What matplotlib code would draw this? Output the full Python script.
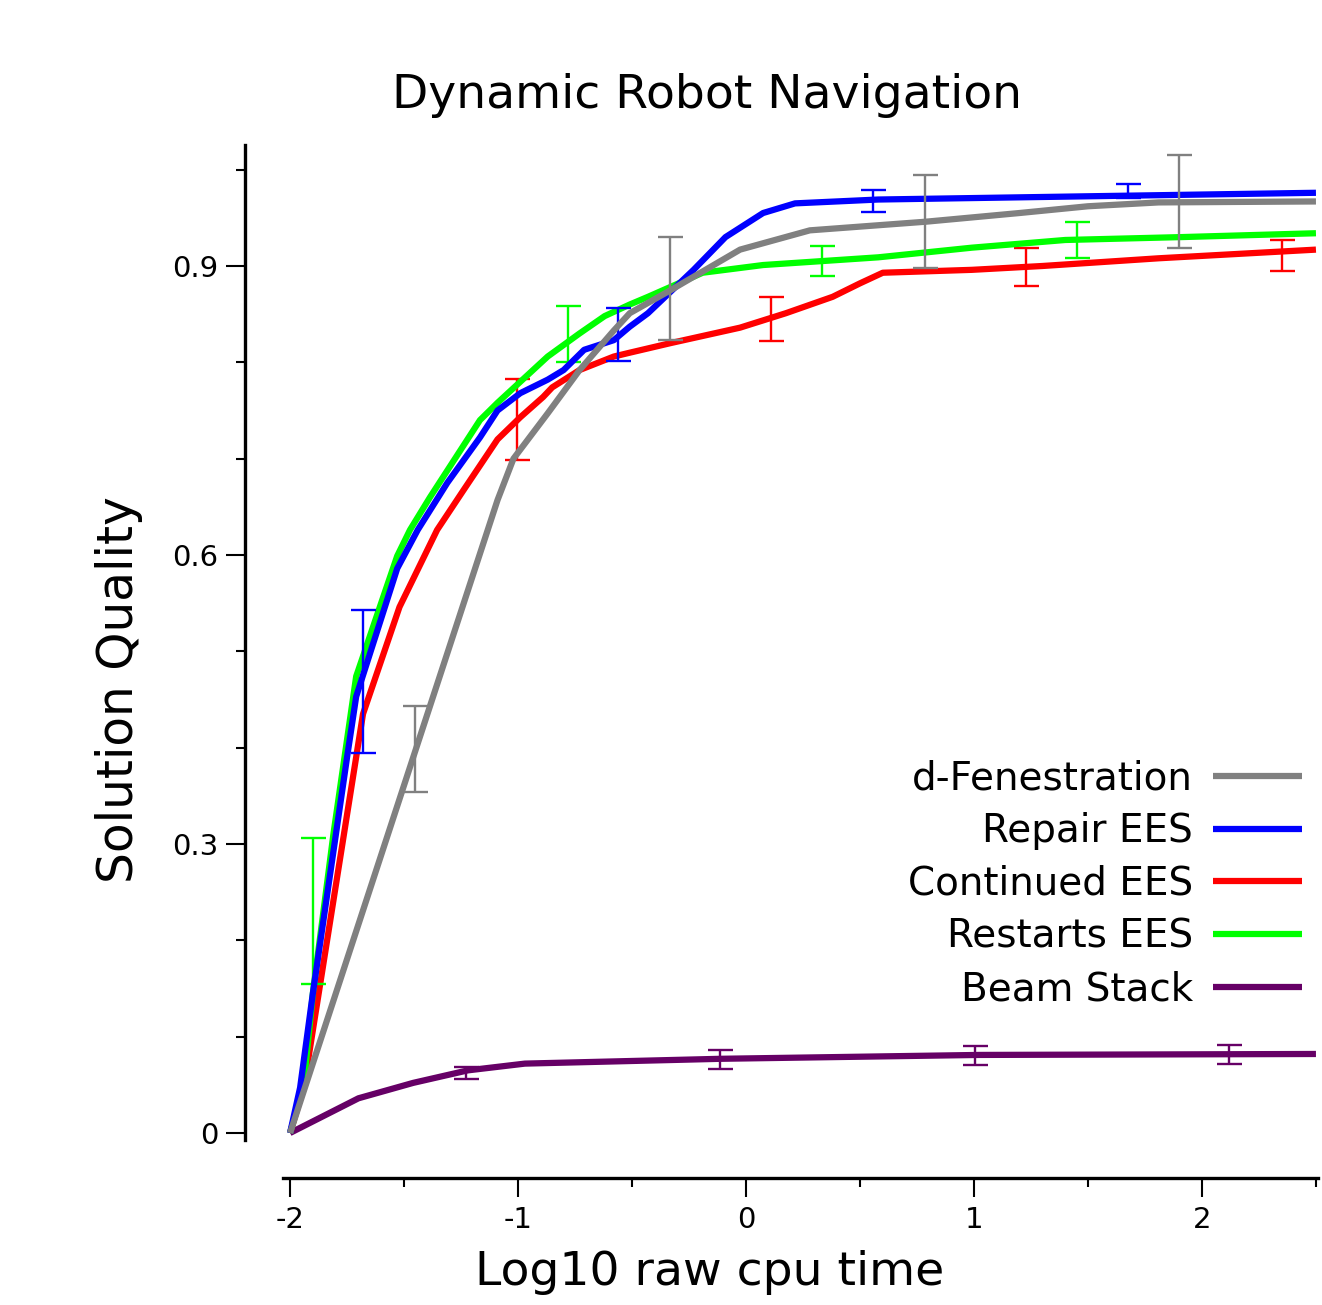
import numpy as np
import matplotlib
matplotlib.use("Agg")
import matplotlib.pyplot as plt
from matplotlib.ticker import MultipleLocator, FixedLocator

# curves: log10 cpu time -> solution quality
dfen_x = [-2, -1.09, -1.02, -0.87, -0.73, -0.58, -0.51, -0.33, -0.026, 0.28, 0.79, 1.20, 1.50, 1.81, 2.5]
dfen_y = [0, 0.657, 0.70, 0.747, 0.792, 0.833, 0.851, 0.875, 0.917, 0.937, 0.946, 0.955, 0.962, 0.966, 0.967]

repair_x = [-2, -1.956, -1.90, -1.75, -1.71, -1.53, -1.44, -1.31, -1.167, -1.09, -0.99, -0.87, -0.80,
            -0.71, -0.58, -0.51, -0.43, -0.23, -0.09, 0.075, 0.215, 0.58, 1.40, 2.5]
repair_y = [0, 0.047, 0.145, 0.39, 0.453, 0.586, 0.626, 0.675, 0.722, 0.75, 0.768, 0.782, 0.792,
            0.813, 0.823, 0.837, 0.851, 0.896, 0.93, 0.955, 0.965, 0.969, 0.972, 0.976]

cont_x = [-2, -1.94, -1.68, -1.52, -1.355, -1.24, -1.09, -0.99, -0.89, -0.85, -0.73, -0.58, -0.51,
          -0.33, -0.026, 0.175, 0.38, 0.50, 0.60, 0.99, 1.30, 1.81, 2.5]
cont_y = [0, 0.047, 0.435, 0.546, 0.626, 0.667, 0.72, 0.743, 0.764, 0.774, 0.792, 0.806, 0.81,
          0.82, 0.836, 0.851, 0.868, 0.882, 0.893, 0.896, 0.900, 0.908, 0.917]

rest_x = [-2, -1.94, -1.90, -1.81, -1.71, -1.53, -1.474, -1.386, -1.167, -1.09, -0.98, -0.87, -0.73,
          -0.62, -0.51, -0.43, -0.19, 0.075, 0.58, 0.99, 1.40, 1.91, 2.5]
rest_y = [0, 0.05, 0.145, 0.31, 0.474, 0.599, 0.626, 0.660, 0.74, 0.758, 0.782, 0.806, 0.830,
          0.848, 0.860, 0.868, 0.893, 0.901, 0.909, 0.919, 0.927, 0.930, 0.934]

beam_x = [-2, -1.70, -1.46, -1.22, -0.97, -0.11, 1.02, 2.5]
beam_y = [0, 0.036, 0.052, 0.065, 0.072, 0.077, 0.081, 0.082]

# error bars: x position, low, high
dfen_ex = [-1.45, -0.333, 0.785, 1.90]
dfen_lo = [0.354, 0.823, 0.898, 0.919]
dfen_hi = [0.443, 0.930, 0.994, 1.015]

repair_ex = [-1.68, -0.56, 0.557, 1.675]
repair_lo = [0.394, 0.801, 0.956, 0.971]
repair_hi = [0.543, 0.856, 0.979, 0.985]

cont_ex = [-1.004, 0.11, 1.23, 2.35]
cont_lo = [0.699, 0.822, 0.879, 0.895]
cont_hi = [0.783, 0.868, 0.919, 0.927]

rest_ex = [-1.90, -0.78, 0.333, 1.45]
rest_lo = [0.155, 0.800, 0.890, 0.908]
rest_hi = [0.306, 0.858, 0.921, 0.946]

beam_ex = [-1.23, -0.114, 1.004, 2.12]
beam_lo = [0.056, 0.066, 0.071, 0.072]
beam_hi = [0.0685, 0.086, 0.090, 0.091]

series = [
    ("Beam Stack", "#660066", beam_x, beam_y, beam_ex, beam_lo, beam_hi),
    ("Continued EES", "#ff0000", cont_x, cont_y, cont_ex, cont_lo, cont_hi),
    ("Restarts EES", "#00ff00", rest_x, rest_y, rest_ex, rest_lo, rest_hi),
    ("Repair EES", "#0000ff", repair_x, repair_y, repair_ex, repair_lo, repair_hi),
    ("d-Fenestration", "#808080", dfen_x, dfen_y, dfen_ex, dfen_lo, dfen_hi),
]
legend_order = ["d-Fenestration", "Repair EES", "Continued EES", "Restarts EES", "Beam Stack"]

fig = plt.figure(figsize=(13.22, 13.05), dpi=100)
ax = fig.add_axes([283 / 1322, 1 - 1140 / 1305, (1318 - 283) / 1322, (1140 - 145) / 1305])

handles = {}
for name, color, x, y, ex, lo, hi in series:
    line, = ax.plot(x, y, color=color, lw=4.5, solid_capstyle="butt", label=name)
    handles[name] = line
    lo = np.array(lo)
    hi = np.array(hi)
    ax.errorbar(ex, (lo + hi) / 2, yerr=(hi - lo) / 2, fmt="none", ecolor=color,
                elinewidth=1.7, capsize=9, capthick=1.7)

ax.set_xlim(-2.031, 2.509)
ax.set_ylim(-0.0073, 1.0256)

for side in ("top", "right"):
    ax.spines[side].set_visible(False)
ax.spines["left"].set_position(("outward", 27.4))
ax.spines["bottom"].set_position(("outward", 27.4))
ax.spines["left"].set_linewidth(2.4)
ax.spines["bottom"].set_linewidth(2.4)

ax.xaxis.set_major_locator(FixedLocator([-2, -1, 0, 1, 2]))
ax.xaxis.set_minor_locator(MultipleLocator(0.5))
ax.yaxis.set_major_locator(FixedLocator([0, 0.3, 0.6, 0.9]))
ax.yaxis.set_minor_locator(MultipleLocator(0.1))
ax.set_xticklabels(["-2", "-1", "0", "1", "2"])
ax.set_yticklabels(["0", "0.3", "0.6", "0.9"])
ax.tick_params(which="major", length=14, width=1.5, labelsize=21)
ax.tick_params(which="minor", length=6.5, width=1.5)
ax.tick_params(axis="x", which="major", pad=6)
ax.tick_params(axis="y", which="major", pad=5)

ax.set_xlabel("Log10 raw cpu time", fontsize=34)
ax.xaxis.set_label_coords(0.4126, -0.1106)
ax.set_ylabel("Solution Quality", fontsize=35)
ax.yaxis.set_label_coords(-0.135, 0.453)
fig.text(0.535, 1 - 95 / 1305, "Dynamic Robot Navigation", fontsize=34, ha="center", va="center")

leg = ax.legend([handles[n] for n in legend_order], legend_order, loc="center right",
                bbox_to_anchor=(1302 / 1322, 1 - 884 / 1305), bbox_transform=fig.transFigure,
                frameon=False, markerfirst=False, fontsize=28, handlelength=2.29,
                handletextpad=0.51, labelspacing=0.38, borderpad=0, borderaxespad=0)

fig.savefig("out.png", dpi=100)
